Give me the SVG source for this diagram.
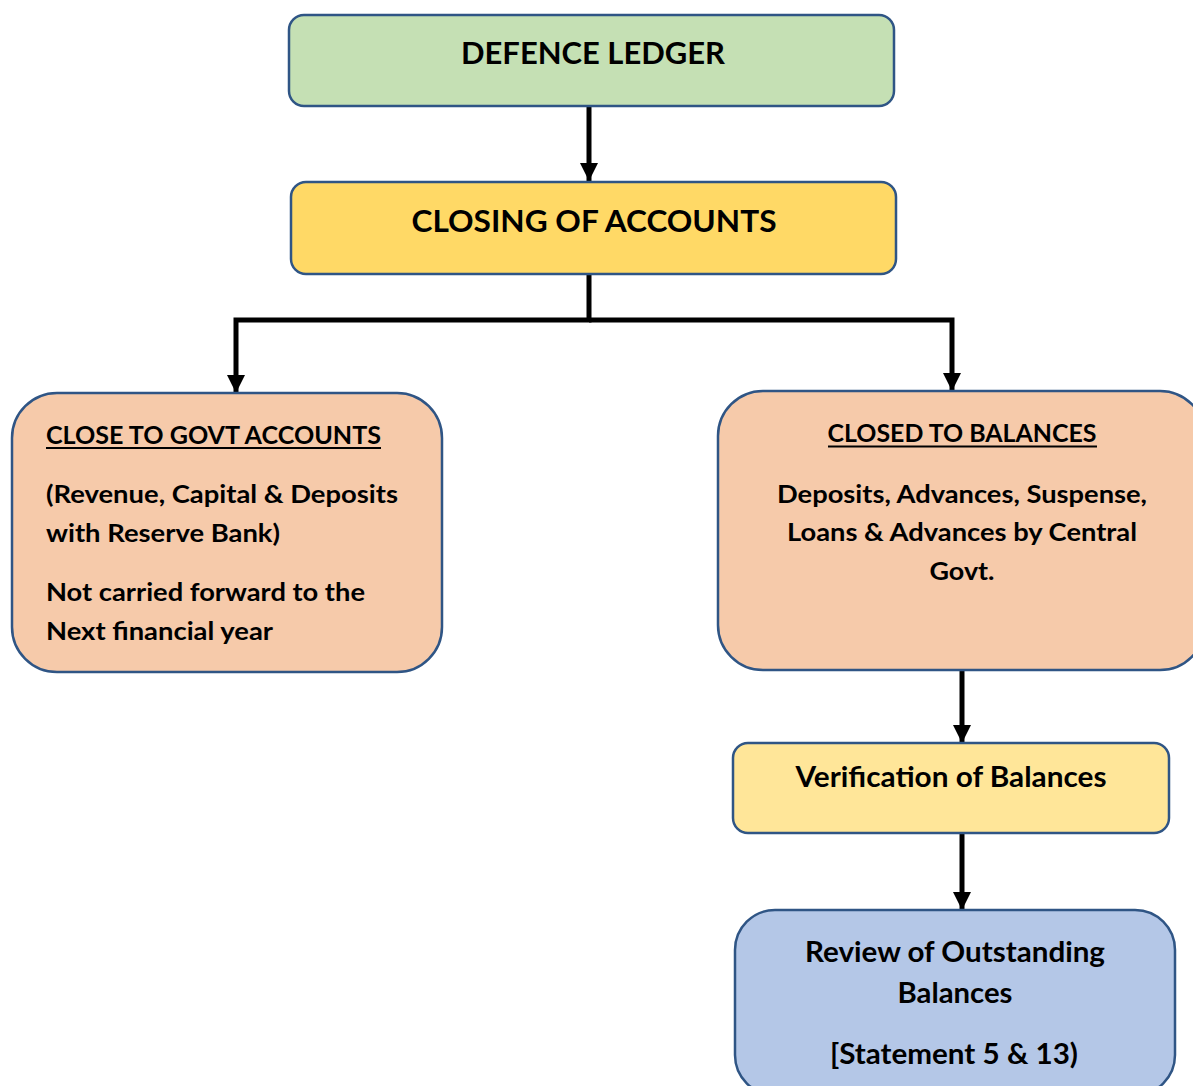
<svg xmlns="http://www.w3.org/2000/svg" width="1193" height="1086" viewBox="0 0 1193 1086">
  <defs>
    <marker id="arrow" viewBox="0 0 10 10" refX="10" refY="5" markerWidth="3.6" markerHeight="3.8" markerUnits="strokeWidth" orient="auto">
      <path d="M0,0 L10,5 L0,10 z" fill="#000"/>
    </marker>
    <style>
      .box { stroke: #2F5585; stroke-width: 2.5; }
      .t { font-family: Lato, "Open Sans", "Liberation Sans", sans-serif; font-weight: bold; fill: #000; }
      .link { fill: none; stroke: #000; stroke-width: 5; }
    </style>
  </defs>
  <rect width="1193" height="1086" fill="#fff"/>

  <g id="connectors">
    <line class="link" x1="589" y1="106" x2="589" y2="181" marker-end="url(#arrow)"/>
    <polyline class="link" points="589,274 589,320 236,320 236,393" marker-end="url(#arrow)"/>
    <polyline class="link" points="589,320 952,320 952,391" marker-end="url(#arrow)"/>
    <line class="link" x1="962" y1="670" x2="962" y2="743" marker-end="url(#arrow)"/>
    <line class="link" x1="962" y1="833" x2="962" y2="910" marker-end="url(#arrow)"/>
  </g>

  <g id="defence-ledger">
    <rect class="box" x="289" y="15" width="605" height="91" rx="15" fill="#C5E0B4"/>
    <text class="t" x="593" y="64" font-size="30" text-anchor="middle" textLength="264" lengthAdjust="spacingAndGlyphs">DEFENCE LEDGER</text>
  </g>

  <g id="closing-of-accounts">
    <rect class="box" x="291" y="182" width="605" height="92" rx="15" fill="#FFD966"/>
    <text class="t" x="594" y="232" font-size="31" text-anchor="middle" textLength="365" lengthAdjust="spacingAndGlyphs">CLOSING OF ACCOUNTS</text>
  </g>

  <g id="close-to-govt">
    <rect class="box" x="12" y="393" width="430" height="279" rx="45" fill="#F6CAAA"/>
    <text class="t" x="46" y="444" font-size="24" textLength="335" lengthAdjust="spacingAndGlyphs">CLOSE TO GOVT ACCOUNTS</text>
    <line x1="46" y1="448" x2="381" y2="448" stroke="#000" stroke-width="2.2"/>
    <text class="t" x="46" y="503" font-size="25" textLength="352" lengthAdjust="spacingAndGlyphs">(Revenue, Capital &amp; Deposits</text>
    <text class="t" x="46" y="542" font-size="25" textLength="234" lengthAdjust="spacingAndGlyphs">with Reserve Bank)</text>
    <text class="t" x="46" y="601" font-size="25" textLength="319" lengthAdjust="spacingAndGlyphs">Not carried forward to the</text>
    <text class="t" x="46" y="640" font-size="25" textLength="227" lengthAdjust="spacingAndGlyphs">Next financial year</text>
  </g>

  <g id="closed-to-balances">
    <rect class="box" x="718" y="391" width="487" height="279" rx="45" fill="#F6CAAA"/>
    <text class="t" x="962" y="442" font-size="25" text-anchor="middle" textLength="269" lengthAdjust="spacingAndGlyphs">CLOSED TO BALANCES</text>
    <line x1="828" y1="446.5" x2="1097" y2="446.5" stroke="#000" stroke-width="2.2"/>
    <text class="t" x="962" y="503" font-size="25" text-anchor="middle" textLength="370" lengthAdjust="spacingAndGlyphs">Deposits, Advances, Suspense,</text>
    <text class="t" x="962" y="541" font-size="25" text-anchor="middle" textLength="350" lengthAdjust="spacingAndGlyphs">Loans &amp; Advances by Central</text>
    <text class="t" x="962" y="580" font-size="25" text-anchor="middle" textLength="65" lengthAdjust="spacingAndGlyphs">Govt.</text>
  </g>

  <g id="verification">
    <rect class="box" x="733" y="743" width="436" height="90" rx="15" fill="#FFE699"/>
    <text class="t" x="951" y="787" font-size="28" text-anchor="middle" textLength="311" lengthAdjust="spacingAndGlyphs">Verification of Balances</text>
  </g>

  <g id="review">
    <rect class="box" x="735" y="910" width="440" height="185" rx="40" fill="#B4C7E7"/>
    <text class="t" x="955" y="962" font-size="28" text-anchor="middle" textLength="300" lengthAdjust="spacingAndGlyphs">Review of Outstanding</text>
    <text class="t" x="955" y="1003" font-size="28" text-anchor="middle" textLength="115" lengthAdjust="spacingAndGlyphs">Balances</text>
    <text class="t" x="954" y="1064" font-size="28" text-anchor="middle" textLength="248" lengthAdjust="spacingAndGlyphs">[Statement 5 &amp; 13)</text>
  </g>
</svg>
